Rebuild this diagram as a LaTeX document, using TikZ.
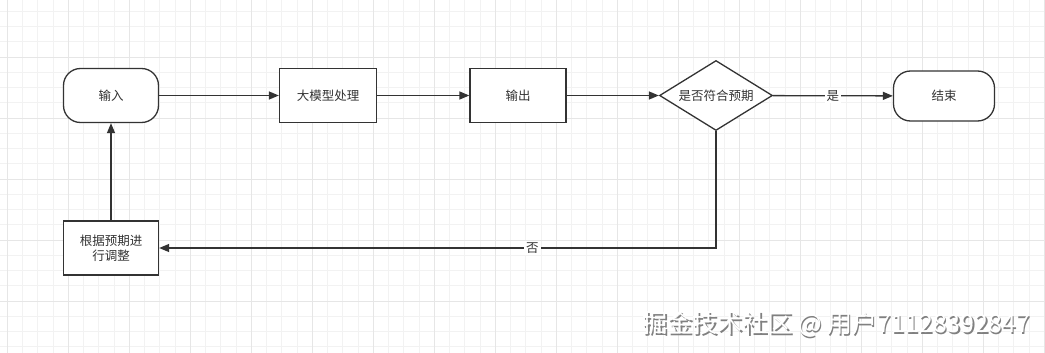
\documentclass[tikz,border=0pt]{standalone}
\usepackage{fontspec}
\setmainfont{Noto Sans CJK SC}
\usepackage{tikz}
\usetikzlibrary{arrows.meta,shapes.geometric}
\definecolor{ink}{HTML}{333333}
\definecolor{gridminor}{HTML}{F2F2F2}
\definecolor{gridmajor}{HTML}{E6E6E6}

\begin{document}
\begin{tikzpicture}[x=1pt,y=-1pt,
	every node/.style={font=\fontsize{12.5}{15}\selectfont, text=ink},
	term/.style={draw=ink, line width=1.3pt, rounded corners=17pt, minimum width=95pt, minimum height=54pt, fill=white},
	box/.style={draw=ink, line width=1.3pt, minimum width=96pt, minimum height=54pt, fill=white},
	decision/.style={draw=ink, line width=1.3pt, diamond, aspect=1.614, inner sep=0pt, minimum width=113pt, minimum height=70pt, fill=white},
	flow/.style={draw=ink, line width=1.3pt, -{Triangle[length=10pt,width=8pt]}},
	lbl/.style={fill=white, inner sep=2pt}]
	\useasboundingbox (0,0) rectangle (1045,353);
	\fill[white] (0,0) rectangle (1045,353);
	% grid
	\foreach \k in {0,...,68}
		\draw[gridminor, line width=0.9pt] (7.3+\k*15.25,0) -- (7.3+\k*15.25,353);
	\foreach \k in {0,...,22}
		\draw[gridminor, line width=0.9pt] (0,11.25+\k*15.25) -- (1045,11.25+\k*15.25);
	\foreach \k in {0,4,...,68}
		\draw[gridmajor, line width=0.9pt] (7.3+\k*15.25,0) -- (7.3+\k*15.25,353);
	\foreach \k in {3,7,...,19}
		\draw[gridmajor, line width=0.9pt] (0,11.25+\k*15.25) -- (1045,11.25+\k*15.25);
	% nodes
	\node[term] (in) at (111,95.5) {输入};
	\node[box, minimum width=97pt] (llm) at (328,95.5) {大模型处理};
	\node[box] (out) at (518,95.5) {输出};
	\node[decision] (chk) at (716,95.5) {是否符合预期};
	\node[term, minimum width=101pt, minimum height=50pt] (end) at (944,96) {结束};
	\node[box, minimum width=95pt, align=center] (adj) at (111,248) {根据预期进\\行调整};
	% connectors
	\draw[flow] (in) -- (llm);
	\draw[flow] (llm) -- (out);
	\draw[flow] (out) -- (chk);
	\draw[flow] (chk) -- node[lbl] {是} (end);
	\draw[flow] (chk.south) |- node[lbl, pos=0.665] {否} (adj);
	\draw[flow] (adj) -- (in);
	% watermark
	\node[font=\fontsize{25}{30}\selectfont, text=black!50] (markshadow) at (837.8,325.6) {掘金技术社区 @ 用户71128392847};
	\node[font=\fontsize{25}{30}\selectfont, text=white] (mark) at (836.5,324.3) {掘金技术社区 @ 用户71128392847};
\end{tikzpicture}
\end{document}
